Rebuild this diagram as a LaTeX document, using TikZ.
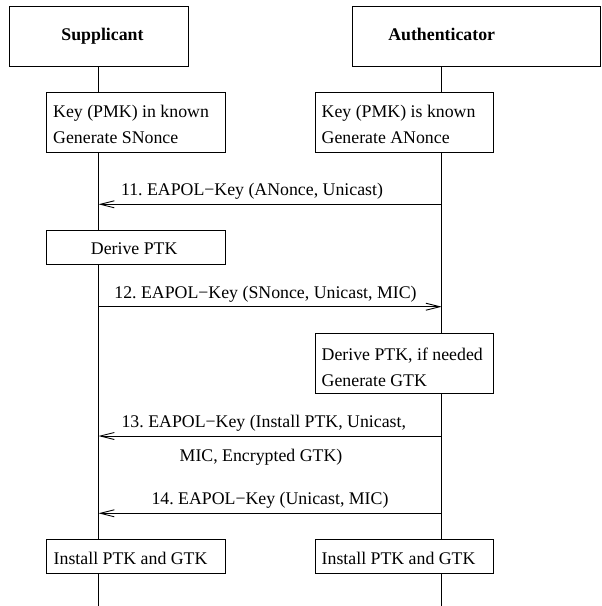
\documentclass[tikz,border=0pt]{standalone}
\usepackage{fontspec}
\setmainfont{Liberation Serif}
\usetikzlibrary{arrows.meta}
\begin{document}
\frenchspacing
\begin{tikzpicture}[x=1pt,y=-1pt,
  every node/.style={font=\fontsize{17.8}{26}\selectfont\frenchspacing},
  box/.style={draw,line width=0.9pt,fill=white,inner sep=0pt},
  life/.style={line width=0.9pt},
  msg/.style={line width=0.9pt,-{Straight Barb[length=14pt,width=7pt,line width=0.9pt]}},
  txt/.style={inner sep=0pt,anchor=base west},
  lbl/.style={inner sep=0pt,anchor=base},
  hdr/.style={inner sep=0pt,anchor=base,font=\fontsize{17.8}{26}\selectfont\bfseries}]
\useasboundingbox (0,0) rectangle (602,606);
% lifelines
\coordinate (stop) at (98.5,66.7);
\coordinate (sbot) at (98.5,606);
\coordinate (atop) at (441.7,66.7);
\coordinate (abot) at (441.7,606);
\draw[life] (stop) -- (sbot);
\draw[life] (atop) -- (abot);
% headers
\node[box,minimum width=179pt,minimum height=60pt] (supbox) at (98.5,36.7) {};
\node[hdr] (sup) at (102.5,40.5) {Supplicant};
\node[box,minimum width=248.3pt,minimum height=60pt] (authbox) at (476.2,36.7) {};
\node[hdr] (auth) at (441.7,40.5) {Authenticator};
% key boxes
\node[box,minimum width=179.7pt,minimum height=60pt] (skeybox) at (135.8,122.7) {};
\node[txt] (skey1) at (53,117.7) {Key (PMK) in known};
\node[txt] (skey2) at (53,143.5) {Generate SNonce};
\node[box,minimum width=178.3pt,minimum height=60pt] (akeybox) at (404.2,122.7) {};
\node[txt] (akey1) at (321.5,117.7) {Key (PMK) is known};
\node[txt] (akey2) at (321.5,143.5) {Generate ANonce};
% message 11
\coordinate (a11) at (441.7,204.3);
\coordinate (s11) at (98.5,204.3);
\draw[msg] (a11) -- (s11);
\node[lbl] (l11) at (252,195.5) {11. EAPOL−Key (ANonce, Unicast)};
% derive PTK
\node[box,minimum width=179.7pt,minimum height=34.3pt] (sderbox) at (135.8,247.2) {};
\node[lbl] (sder) at (134.2,254.7) {Derive PTK};
% message 12
\coordinate (s12) at (98.5,306.7);
\coordinate (a12) at (441.7,306.7);
\draw[msg] (s12) -- (a12);
\node[lbl] (l12) at (265.5,298.5) {12. EAPOL−Key (SNonce, Unicast, MIC)};
% derive PTK if needed
\node[box,minimum width=178.3pt,minimum height=60pt] (aderbox) at (404.2,363.3) {};
\node[txt] (ader1) at (321.5,360) {Derive PTK, if needed};
\node[txt] (ader2) at (321.5,386.5) {Generate GTK};
% message 13
\coordinate (a13) at (441.7,436);
\coordinate (s13) at (98.5,436);
\draw[msg] (a13) -- (s13);
\node[lbl] (l13a) at (263.8,427.7) {13. EAPOL−Key (Install PTK, Unicast,};
\node[lbl] (l13b) at (261,461) {MIC, Encrypted GTK)};
% message 14
\coordinate (a14) at (441.7,513.3);
\coordinate (s14) at (98.5,513.3);
\draw[msg] (a14) -- (s14);
\node[lbl] (l14) at (270,504.5) {14. EAPOL−Key (Unicast, MIC)};
% install
\node[box,minimum width=179.7pt,minimum height=34.3pt] (sinsbox) at (135.8,556.2) {};
\node[txt] (sins) at (53.5,564.3) {Install PTK and GTK};
\node[box,minimum width=178.3pt,minimum height=34.3pt] (ainsbox) at (404.2,556.2) {};
\node[txt] (ains) at (321.5,564.3) {Install PTK and GTK};
\end{tikzpicture}
\end{document}
